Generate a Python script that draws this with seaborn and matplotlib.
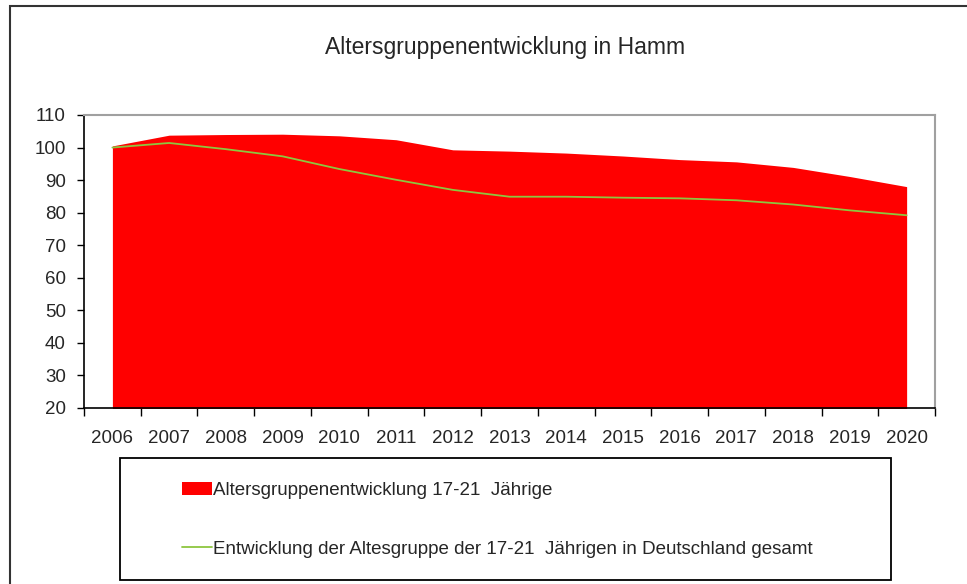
import matplotlib
matplotlib.use('Agg')
import matplotlib.pyplot as plt
import seaborn as sns
import pandas as pd
from matplotlib.patches import Rectangle, Patch
from matplotlib.lines import Line2D

jahre = ['2006', '2007', '2008', '2009', '2010', '2011', '2012', '2013',
         '2014', '2015', '2016', '2017', '2018', '2019', '2020']
hamm = [100.5, 103.8, 104.0, 104.1, 103.6, 102.4, 99.3, 98.9,
        98.3, 97.4, 96.3, 95.6, 93.9, 91.1, 88.0]
deutschland = [100.0, 101.4, 99.5, 97.3, 93.4, 90.1, 87.0, 84.9,
               84.9, 84.6, 84.4, 83.8, 82.5, 80.7, 79.2]

label_hamm = 'Altersgruppenentwicklung 17-21  Jährige'
label_de = 'Entwicklung der Altesgruppe der 17-21  Jährigen in Deutschland gesamt'

df = pd.DataFrame({'Jahr': jahre, 'pos': range(len(jahre)),
                   'Hamm': hamm, 'Deutschland': deutschland})

sns.set_style('white')
plt.rcParams['font.family'] = ['Liberation Sans', 'DejaVu Sans']

fig = plt.figure(figsize=(9.67, 5.84), dpi=100)
ax = fig.add_axes([0.0869, 0.3014, 0.8800, 0.5017])

# Flaeche Hamm
ax.fill_between(df['pos'], 0, df['Hamm'], color='#FF0000', linewidth=0)
# Linie Deutschland
sns.lineplot(x='pos', y='Deutschland', data=df, ax=ax, color='#8DC63F', linewidth=1.3)

ax.set_xlim(-0.5, len(jahre) - 0.5)
ax.set_ylim(20, 110)
ax.set_yticks(range(20, 111, 10))
ax.set_xticks([i - 0.5 for i in range(len(jahre) + 1)], minor=False)
ax.set_xticklabels([''] * (len(jahre) + 1))
ax.set_xticks(range(len(jahre)), minor=True)
ax.set_xticklabels(jahre, minor=True)
ax.tick_params(axis='x', which='major', direction='out', length=6, width=1, color='black', bottom=True)
ax.tick_params(axis='x', which='minor', length=0, labelsize=13.5, pad=16)
ax.tick_params(axis='y', direction='out', length=5, width=1, color='black', left=True, labelsize=13.5, pad=8)
ax.set_xlabel('')
ax.set_ylabel('')

for s in ['left', 'bottom']:
    ax.spines[s].set_color('black')
    ax.spines[s].set_linewidth(1.2)
for s in ['top', 'right']:
    ax.spines[s].set_color('#A0A0A0')
    ax.spines[s].set_linewidth(1.5)

fig.text(0.522, 0.918, 'Altersgruppenentwicklung in Hamm', ha='center', va='center', fontsize=16.5)

# aeusserer Rahmen
fig.patches.append(Rectangle((10 / 967, -0.1), 1.2, 1.1 - 6 / 584, transform=fig.transFigure,
                             fill=False, edgecolor='#333333', linewidth=1.5))

# Legendenkasten
fig.patches.append(Rectangle((120 / 967, 1 - 580 / 584), 771 / 967, 122 / 584,
                             transform=fig.transFigure, fill=False, edgecolor='black', linewidth=1.3))

handles = [Patch(facecolor='#FF0000', edgecolor='none'),
           Line2D([0], [0], color='#8DC63F', linewidth=1.3)]
fig.legend(handles, [label_hamm, label_de], loc='center left',
           bbox_to_anchor=(174 / 967, 1 - 520 / 584), frameon=False, fontsize=13.5,
           handlelength=1.6, handleheight=0.7, handletextpad=0.1, labelspacing=2.2,
           borderaxespad=0)

fig.savefig('out.png', dpi=100)
